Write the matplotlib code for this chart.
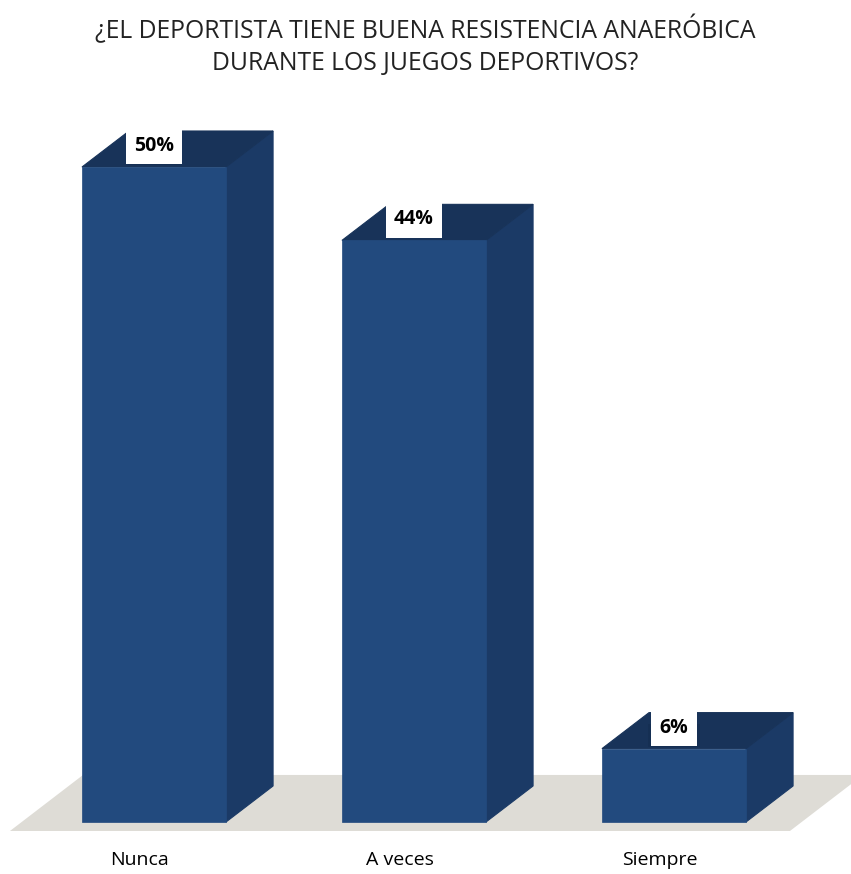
import matplotlib.pyplot as plt
from matplotlib.patches import Polygon, Rectangle

categorias = ['Nunca', 'A veces', 'Siempre']
porcentajes = [50.0, 44.4, 5.6]
titulo = '¿EL DEPORTISTA TIENE BUENA RESISTENCIA ANAERÓBICA\nDURANTE LOS JUEGOS DEPORTIVOS?'

# colores de las caras del prisma
c_frente = '#224a7e'
c_lado = '#1b3a66'
c_techo = '#183359'
c_piso = '#dedcd6'

fig = plt.figure(figsize=(8.51, 8.74), dpi=100)
ax = fig.add_axes([0, 0, 1, 1])
ax.set_xlim(-0.5923, 2.6808)
ax.set_ylim(-3.97, 62.75)
ax.axis('off')

ancho = 0.554
dx, dy = 0.181, 2.75  # profundidad 3D de las barras

# piso
n = len(categorias)
pdx = 0.281
piso = Polygon([(-0.554, -0.687), (n - 0.554, -0.687),
                (n - 0.554 + pdx, 3.59), (-0.554 + pdx, 3.59)],
               closed=True, facecolor=c_piso, edgecolor='none', zorder=1)
ax.add_patch(piso)

for i, (cat, v) in enumerate(zip(categorias, porcentajes)):
    x0, x1 = i - ancho / 2, i + ancho / 2
    ax.add_patch(Polygon([(x1, 0), (x1 + dx, dy), (x1 + dx, v + dy), (x1, v)],
                         closed=True, facecolor=c_lado, edgecolor=c_lado, lw=0.8, zorder=2))
    ax.add_patch(Polygon([(x0, v), (x1, v), (x1 + dx, v + dy), (x0 + dx, v + dy)],
                         closed=True, facecolor=c_techo, edgecolor=c_techo, lw=0.8, zorder=2))
    ax.add_patch(Rectangle((x0, 0), ancho, v, facecolor=c_frente, edgecolor=c_frente,
                           lw=0.5, zorder=3))
    # sombra difusa bajo la etiqueta
    for k, a in enumerate([0.12, 0.14, 0.16, 0.2]):
        w = 0.20 - k * 0.025
        ax.add_patch(Rectangle((i - w / 2, v + 0.15 + k * 0.12), w, 1.7 - k * 0.2,
                               facecolor='#07142a', edgecolor='none', alpha=a, zorder=2.5))
    ax.text(i, v + 1.6, f'{v:.0f}%', ha='center', va='center', fontsize=14, fontweight='bold',
            family='Open Sans', color='black', zorder=5,
            bbox=dict(boxstyle='square,pad=0.42', facecolor='white', edgecolor='none'))
    ax.text(i - 0.054, -2.9, cat, ha='center', va='center', fontsize=14,
            family='Open Sans', color='black', zorder=5)

fig.text(0.5, 0.948, titulo, ha='center', va='center', fontsize=17.8,
         family='Open Sans', color='#222222', linespacing=1.38)

fig.savefig('out.png', dpi=100)
